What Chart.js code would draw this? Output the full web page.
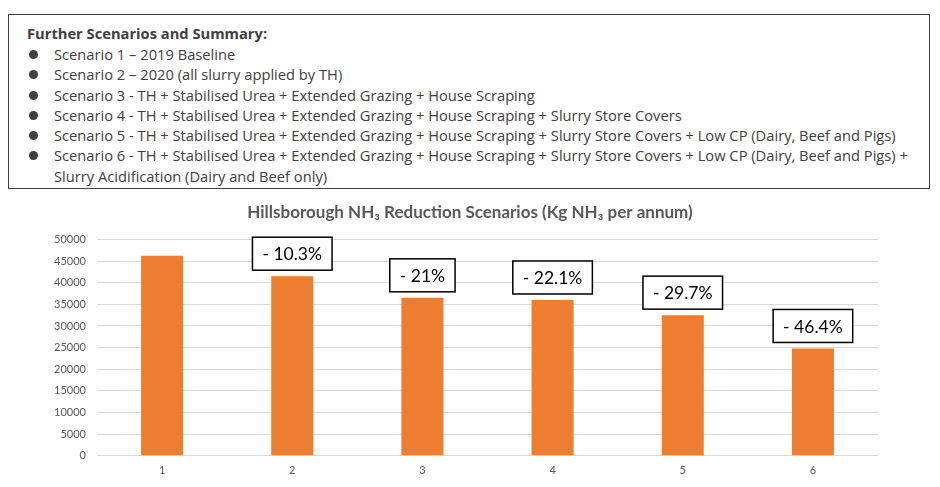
<!DOCTYPE html>
<html>
<head>
<meta charset="utf-8">
<script src="https://cdn.jsdelivr.net/npm/chart.js@4.4.1/dist/chart.umd.min.js"></script>
<style>
  body { margin: 0; background: #fff; width: 940px; height: 487px; overflow: hidden; position: relative; }
  #summary {
    position: absolute; left: 8px; top: 14px; width: 922px; height: 175px;
    border: 1.5px solid #404040; box-sizing: border-box;
    font-family: "Open Sans", sans-serif; color: #404040; font-size: 14.7px;
    padding: 8px 0 0 18px;
  }
  #summary h4 { margin: 0; font-size: 14.7px; font-weight: bold; line-height: 21px; }
  #summary ul { list-style: none; margin: 0; padding: 0; }
  #summary li { position: relative; padding-left: 27px; line-height: 20.3px; }
  #summary li::before {
    content: ""; position: absolute; left: 2px; top: 6px; width: 9px; height: 9px;
    border-radius: 50%; background: #404040;
  }
  #wrap { position: absolute; left: 0; top: 195px; width: 940px; height: 292px; }
</style>
</head>
<body>
<div id="summary">
  <h4>Further Scenarios and Summary:</h4>
  <ul>
    <li>Scenario 1 – 2019 Baseline</li>
    <li>Scenario 2 – 2020 (all slurry applied by TH)</li>
    <li>Scenario 3 - TH + Stabilised Urea + Extended Grazing + House Scraping</li>
    <li>Scenario 4 - TH + Stabilised Urea + Extended Grazing + House Scraping + Slurry Store Covers</li>
    <li>Scenario 5 - TH + Stabilised Urea + Extended Grazing + House Scraping + Slurry Store Covers + Low CP (Dairy, Beef and Pigs)</li>
    <li>Scenario 6 - TH + Stabilised Urea + Extended Grazing + House Scraping + Slurry Store Covers + Low CP (Dairy, Beef and Pigs) +<br>Slurry Acidification (Dairy and Beef only)</li>
  </ul>
</div>
<div id="wrap"><canvas id="myChart" width="940" height="292"></canvas></div>
<script>
// scenarios and NH3 emissions (kg per annum)
var scenarios = ['1', '2', '3', '4', '5', '6'];
var emissions = [46200, 41500, 36500, 36000, 32500, 24800];
var reductions = ['', '- 10.3%', '- 21%', '- 22.1%', '- 29.7%', '- 46.4%'];
var yMax = 50000;
var yStep = 5000;

// boxes with the % reduction above each bar
var reductionBoxes = {
    id: 'reductionBoxes',
    afterDatasetsDraw: function (chart) {
        var ctx = chart.ctx;
        var meta = chart.getDatasetMeta(0);
        ctx.save();
        ctx.font = '17.5px Lato, sans-serif';
        ctx.textAlign = 'center';
        ctx.textBaseline = 'middle';
        meta.data.forEach(function (bar, i) {
            var txt = reductions[i];
            if (!txt) return;
            var w = ctx.measureText(txt).width + 20;
            var h = 33;
            var bottom = bar.y - 6;
            ctx.fillStyle = '#fff';
            ctx.fillRect(bar.x - w / 2, bottom - h, w, h);
            ctx.strokeStyle = '#000';
            ctx.lineWidth = 1.5;
            ctx.strokeRect(bar.x - w / 2, bottom - h, w, h);
            ctx.fillStyle = '#000';
            ctx.fillText(txt, bar.x, bottom - h / 2 + 1);
        });
        ctx.restore();
    }
};

var ctx = document.getElementById('myChart').getContext('2d');
var chart = new Chart(ctx, {
    type: 'bar',
    data: {
        labels: scenarios,
        datasets: [{
            data: emissions,
            backgroundColor: '#ED7D31',
            categoryPercentage: 1,
            barPercentage: 0.323
        }]
    },
    options: {
        responsive: false,
        animation: false,
        layout: { padding: { left: 0, right: 0, top: 7, bottom: 2 } },
        plugins: {
            legend: { display: false },
            tooltip: { enabled: false },
            title: {
                display: true,
                text: 'Hillsborough NH\u2083 Reduction Scenarios (Kg NH\u2083 per annum)',
                color: '#595959',
                font: { family: 'Lato, sans-serif', size: 17, weight: 'bold' },
                padding: { top: 0, bottom: 17 }
            }
        },
        scales: {
            x: {
                grid: { display: false, drawTicks: false },
                border: { display: false },
                ticks: { color: '#595959', font: { family: 'Lato, sans-serif', size: 11 }, padding: 8 }
            },
            y: {
                min: 0,
                max: yMax,
                grid: { color: '#d9d9d9', drawTicks: false },
                border: { display: false },
                ticks: {
                    stepSize: yStep,
                    color: '#595959',
                    font: { family: 'Lato, sans-serif', size: 11 },
                    padding: 11,
                    callback: function (v) { return String(v); }
                },
                afterFit: function (scale) { scale.width = 97; }
            },
            // empty right margin so the title stays centred on the whole canvas
            yRight: {
                position: 'right',
                grid: { display: false },
                border: { display: false },
                ticks: { display: false },
                afterFit: function (scale) { scale.width = 62; }
            }
        }
    },
    plugins: [reductionBoxes]
});
</script>
</body>
</html>
